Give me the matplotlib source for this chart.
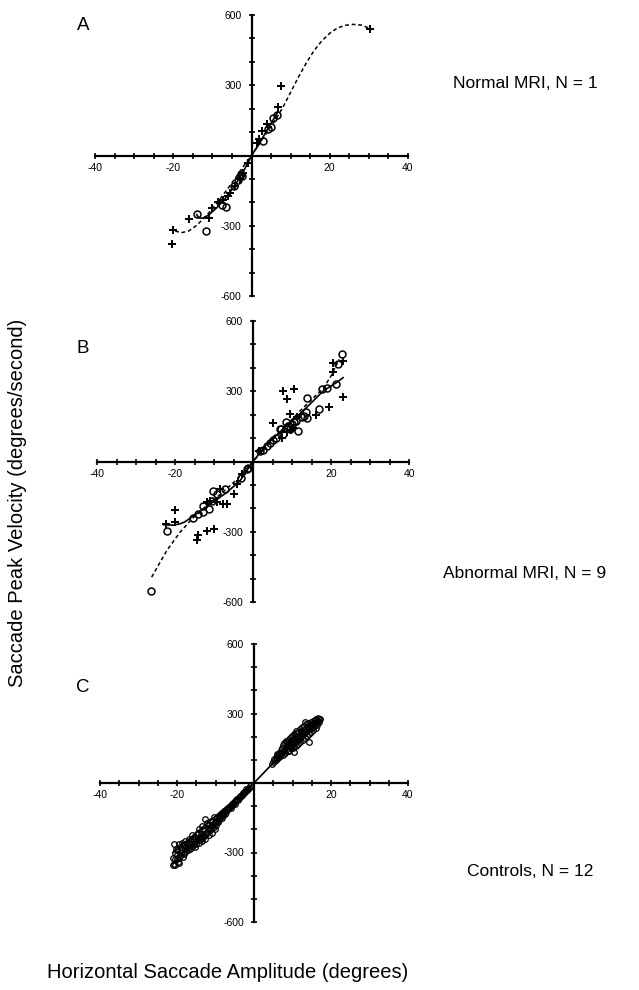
import matplotlib
matplotlib.use("Agg")
import matplotlib.pyplot as plt
from matplotlib.ticker import MultipleLocator, FixedLocator

plt.rcParams['font.family'] = ['Liberation Sans', 'DejaVu Sans']
plt.rcParams['axes.unicode_minus'] = False

# ---------------- Panel A: Normal MRI ----------------
a_plus_x = [30.4, 7.5, 6.9, 3.9, 2.6, 1.3, 2.0, -0.8, -2.1, -3.0, -4.2, -5.5, -5.9, -8.5,
            -10.2, -7.2, -10.9, -15.9, -20.0, -20.2]
a_plus_y = [542, 296, 205, 133, 105, 54, 70, -32, -75, -100, -132, -161, -175, -197,
            -226, -190, -266, -271, -319, -379]
a_circ_x = [6.4, 5.4, 5.0, 3.0, 4.2, -2.5, -2.8, -3.5, -4.6, -6.5, -7.6, -13.9, -11.7]
a_circ_y = [174, 159, 122, 62, 115, -89, -80, -105, -130, -221, -211, -250, -322]
a_dash_x = [-19.5, -18, -16, -14, -12, -10, -8, -6, -4, -2, 0, 2, 4, 6, 8, 10, 12, 14,
            16, 18, 20, 22, 24, 26, 28, 30.4]
a_dash_y = [-322, -330, -322, -298, -265, -228, -185, -140, -93, -45, 0, 50, 100, 150,
            205, 270, 335, 395, 448, 490, 522, 545, 556, 560, 557, 542]
a_solid_x = [-14, -13.5, -12.5, -11, -9, -7, -5, -3, -1, 0, 2, 4, 6, 6.8]
a_solid_y = [-252, -266, -268, -255, -225, -190, -145, -95, -35, 0, 50, 110, 165, 190]

# ---------------- Panel B: Abnormal MRI ----------------
b_circ_x = [-26.1, -22.1, -15.3, -14.0, -12.7, -12.7, -11.4, -10.2, -10.5, -9.3, -7.2, -3.0,
            -1.6, -1.2, 1.8, 2.5, 3.5, 4.3, 5.2, 6.0, 6.9, 7.3, 7.8, 8.4, 9.0, 9.5, 9.9,
            10.5, 11.1, 11.6, 12.6, 13.2, 13.8, 13.7, 13.9, 17.0, 17.8, 19.0, 21.4, 21.8,
            22.7]
b_circ_y = [-551, -298, -240, -226, -216, -190, -204, -128, -170, -140, -119, -70,
            -33, -28, 45, 50, 66, 80, 90, 100, 138, 137, 118, 168, 150, 140, 159,
            170, 175, 130, 190, 195, 185, 210, 270, 223, 311, 315, 329, 416,
            458]
b_plus_x = [-22.3, -20.1, -20.0, -14.4, -14.0, -11.9, -10.1, -11.0, -11.9, -9.3, -7.6,
            -6.7, -5.0, -4.2, -8.4, -2.9, 1.6, 5.2, 7.6, 8.6, 10.5, 9.5, 11.2, 8.8, 9.8,
            10.3, 7.5, 16.1, 19.5, 20.5, 20.5, 23.1, 23.1]
b_plus_y = [-267, -206, -260, -335, -314, -298, -288, -168, -172, -172, -181,
            -183, -140, -97, -117, -54, 45, 166, 301, 265, 311, 204, 188, 125, 135,
            145, 100, 198, 233, 382, 421, 429, 276]
b_solid_x = [-22.9, -20.5, -18.7, -17.5, -16.1, -14, -11, -6.7, -3.3, 0, 3.5, 8.6, 13.7,
             18, 21.4, 23.1]
b_solid_y = [-270, -272, -266, -258, -242, -218, -182, -132, -82, 0, 74, 152, 230,
             301, 337, 358]
b_dash_x = [-26.0, -22.1, -18.7, -15.7, -12, -8, -4, 0, 4, 8, 12, 16, 18, 20, 22.1]
b_dash_y = [-494, -380, -302, -246, -190, -135, -75, 0, 75, 145, 215, 280, 312, 365, 437]

# ---------------- Panel C: Controls ----------------
c_pos_x = [4.6, 5.0, 5.2, 5.5, 5.7, 5.9, 6.1, 6.3, 6.4, 6.6,
           6.8, 7.0, 7.1, 7.3, 7.4, 7.6, 7.7, 7.9, 8.0, 8.1,
           8.3, 8.4, 8.6, 8.7, 8.8, 9.0, 9.1, 9.2, 9.4, 9.5,
           9.6, 9.8, 9.9, 10.0, 10.1, 10.2, 10.4, 10.5, 10.6, 10.7,
           10.9, 11.0, 11.1, 11.2, 11.4, 11.5, 11.6, 11.8, 11.9, 12.0,
           12.1, 12.2, 12.4, 12.5, 12.6, 12.7, 12.9, 13.0, 13.1, 13.2,
           13.4, 13.5, 13.6, 13.7, 13.9, 14.0, 14.1, 14.2, 14.3, 14.5,
           14.6, 14.7, 14.9, 15.0, 15.1, 15.2, 15.4, 15.5, 15.6, 15.8,
           15.9, 16.0, 16.1, 16.2, 16.4, 16.5, 16.6, 16.8, 17.0, 17.2,
           8.9, 9.7, 10.3, 11.3, 12.3, 7.5, 6.0, 10.8, 13.3, 14.8]
c_pos_y = [80, 90, 102, 96, 110, 118, 104, 122, 112, 130,
           118, 142, 126, 150, 134, 162, 140, 172, 150, 130,
           165, 182, 148, 176, 160, 190, 138, 170, 155, 198,
           180, 165, 205, 150, 188, 172, 210, 134, 195, 180,
           160, 215, 198, 182, 170, 222, 205, 190, 232, 176,
           212, 198, 240, 222, 185, 207, 248, 230, 215, 195,
           255, 238, 222, 205, 245, 228, 260, 212, 177, 250,
           235, 262, 220, 255, 242, 268, 230, 260, 248, 272,
           255, 238, 276, 265, 250, 280, 268, 276, 262, 276,
           140, 150, 160, 200, 225, 120, 125, 225, 262, 250]
c_neg_x = [-1.0, -1.3, -1.6, -1.9, -2.2, -2.5, -2.8, -3.1, -3.4, -3.7,
           -4.0, -4.3, -4.6, -4.9, -5.2, -5.5, -5.8, -6.1, -6.4, -6.7,
           -2.0, -3.0, -4.5, -5.0, -6.0, -3.6, -5.6, -6.9, -4.1, -2.6,
           -7.0, -7.2, -7.4, -7.6, -7.8, -8.0, -8.2, -8.4, -8.6, -8.8,
           -9.0, -9.2, -9.4, -9.6, -9.8, -10.0, -10.2, -10.4, -10.6, -10.8,
           -11.0, -11.2, -11.4, -11.6, -11.8, -12.0, -12.2, -12.4, -12.6, -12.8,
           -13.0, -13.2, -13.4, -13.6, -13.8, -14.0, -14.2, -14.4, -14.6, -14.8,
           -15.0, -15.2, -15.4, -15.6, -15.8, -16.0, -16.2, -16.4, -16.6, -16.8,
           -17.0, -17.2, -17.4, -17.6, -17.8, -18.0, -18.2, -18.4, -18.6, -18.8,
           -19.0, -19.2, -19.4, -19.6, -19.8, -20.0, -20.2, -20.4, -20.6, -20.8,
           -8.1, -9.1, -10.1, -11.1, -12.1, -13.1, -14.1, -15.1, -16.1, -17.1,
           -8.5, -9.5, -10.5, -11.5, -12.5, -13.5, -14.5, -15.5, -16.5, -17.5,
           -18.1, -19.1, -20.1, -21.0, -20.5, -19.5, -18.5, -21.0, -20.9, -19.9]
c_neg_y = [-14, -22, -25, -32, -35, -42, -44, -50, -55, -58,
           -65, -68, -75, -78, -85, -88, -96, -98, -106, -110,
           -28, -52, -68, -90, -108, -62, -92, -118, -72, -38,
           -112, -125, -118, -135, -122, -140, -128, -150, -135, -145,
           -160, -142, -170, -152, -182, -165, -200, -145, -178, -215,
           -190, -165, -205, -180, -225, -195, -172, -215, -155, -240,
           -205, -225, -185, -250, -215, -232, -198, -258, -240, -222,
           -250, -277, -232, -262, -242, -226, -270, -252, -285, -260,
           -240, -275, -262, -295, -250, -282, -305, -268, -290, -258,
           -300, -275, -325, -262, -340, -310, -285, -355, -330, -348,
           -132, -150, -170, -185, -210, -228, -245, -262, -275, -290,
           -145, -162, -188, -198, -222, -238, -215, -245, -262, -280,
           -300, -315, -330, -325, -300, -345, -318, -352, -265, -290]
c_line_x = [-21, 0, 4.6, 17]
c_line_y = [-300, 0, 80, 270]

x_labels = [-40, -20, 20, 40]
y_labels = [-600, -300, 300, 600]

W, H = 639, 990
fig = plt.figure(figsize=(W / 100, H / 100), dpi=100)


def make_axes(left, top, right, bottom):
    ax = fig.add_axes([left / W, 1 - bottom / H, (right - left) / W, (bottom - top) / H])
    ax.set_xlim(-40, 40)
    ax.set_ylim(-600, 600)
    for s in ('top', 'right'):
        ax.spines[s].set_visible(False)
    for s in ('left', 'bottom'):
        ax.spines[s].set_position(('data', 0))
        ax.spines[s].set_linewidth(1.6)
    ax.xaxis.set_major_locator(FixedLocator(x_labels))
    ax.xaxis.set_minor_locator(MultipleLocator(5))
    ax.yaxis.set_major_locator(FixedLocator(y_labels))
    ax.yaxis.set_minor_locator(MultipleLocator(100))
    ax.tick_params(which='both', direction='inout', length=4.5, width=1.2, color='black')
    ax.tick_params(axis='x', which='major', labelsize=7.5, pad=3)
    ax.tick_params(axis='y', which='major', labelsize=7.5, pad=5)
    ax.set_facecolor('none')
    return ax


plus_kw = dict(linestyle='none', marker='+', markersize=6, markeredgewidth=1.4,
               color='black', zorder=3)
circ_kw = dict(linestyle='none', marker='o', markersize=5, markeredgewidth=1.1,
               markerfacecolor='none', markeredgecolor='black', zorder=3)
dash_kw = dict(color='black', linewidth=1.1, linestyle=(0, (2.5, 1.8)), zorder=2)
solid_kw = dict(color='black', linewidth=1.2, zorder=2)

# Panel A
axA = make_axes(95, 15, 408, 296)
axA.plot(a_dash_x, a_dash_y, **dash_kw)
axA.plot(a_solid_x, a_solid_y, **solid_kw)
axA.plot(a_plus_x, a_plus_y, **plus_kw)
axA.plot(a_circ_x, a_circ_y, **circ_kw)

# Panel B
axB = make_axes(97, 321, 409, 602)
axB.plot(b_dash_x, b_dash_y, **dash_kw)
axB.plot(b_solid_x, b_solid_y, **solid_kw)
axB.plot(b_plus_x, b_plus_y, **plus_kw)
axB.plot(b_circ_x, b_circ_y, **circ_kw)

# Panel C
axC = make_axes(100, 644, 408, 922)
axC.plot(c_line_x, c_line_y, **solid_kw)
small_circ = dict(linestyle='none', marker='o', markersize=4, markeredgewidth=0.9,
                  markerfacecolor='none', markeredgecolor='black', zorder=3)
axC.plot(c_pos_x, c_pos_y, **small_circ)
axC.plot(c_neg_x, c_neg_y, **small_circ)

# Panel letters
for letter, y in (('A', 25), ('B', 349), ('C', 688)):
    fig.text(83 / W, 1 - y / H, letter, fontsize=13.5, ha='center', va='center')

# Group labels
fig.text(453 / W, 1 - 84 / H, 'Normal MRI, N = 1', fontsize=12.5, ha='left', va='center')
fig.text(443 / W, 1 - 574 / H, 'Abnormal MRI, N = 9', fontsize=12.5, ha='left', va='center')
fig.text(467 / W, 1 - 872 / H, 'Controls, N = 12', fontsize=12.5, ha='left', va='center')

# Axis titles
fig.text(18 / W, 1 - 503 / H, 'Saccade Peak Velocity (degrees/second)', fontsize=14.5,
         rotation=90, ha='center', va='center')
fig.text(228 / W, 1 - 973 / H, 'Horizontal Saccade Amplitude (degrees)', fontsize=14.5,
         ha='center', va='center')

fig.savefig('out.png', dpi=100, facecolor='white')
